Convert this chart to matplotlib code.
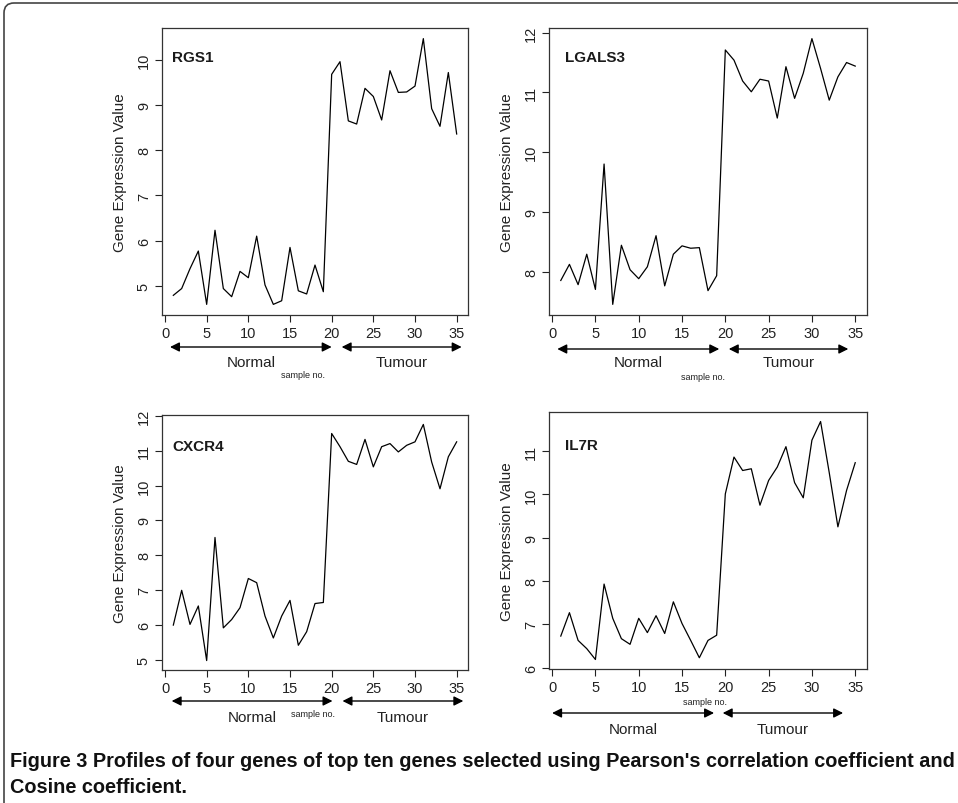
import matplotlib
matplotlib.use("Agg")
import matplotlib.pyplot as plt
from matplotlib.patches import FancyBboxPatch
from matplotlib.transforms import IdentityTransform, blended_transform_factory

plt.rcParams['font.family'] = ['Liberation Sans', 'DejaVu Sans']

W, H = 958, 804
sample = list(range(1, 36))

rgs1 = [4.79, 4.94, 5.38, 5.77, 4.59, 6.23, 4.94, 4.76, 5.32, 5.18,
        6.10, 5.02, 4.59, 4.67, 5.85, 4.89, 4.82, 5.46, 4.87, 9.68,
        9.96, 8.65, 8.58, 9.37, 9.19, 8.67, 9.76, 9.28, 9.29, 9.42,
        10.47, 8.92, 8.53, 9.72, 8.36]
lgals3 = [7.85, 8.12, 7.78, 8.29, 7.70, 9.80, 7.45, 8.44, 8.03, 7.88,
          8.08, 8.60, 7.76, 8.29, 8.43, 8.39, 8.40, 7.68, 7.93, 11.71,
          11.54, 11.19, 11.01, 11.22, 11.19, 10.57, 11.43, 10.90, 11.32, 11.90,
          11.40, 10.87, 11.26, 11.50, 11.44]
cxcr4 = [5.99, 6.99, 6.01, 6.54, 4.97, 8.51, 5.91, 6.15, 6.49, 7.33,
         7.21, 6.25, 5.62, 6.25, 6.70, 5.41, 5.80, 6.61, 6.64, 11.50,
         11.12, 10.70, 10.61, 11.33, 10.54, 11.12, 11.21, 10.97, 11.16, 11.26,
         11.76, 10.68, 9.91, 10.83, 11.26]
il7r = [6.73, 7.27, 6.63, 6.44, 6.19, 7.93, 7.14, 6.67, 6.54, 7.14,
        6.81, 7.20, 6.79, 7.52, 7.02, 6.63, 6.23, 6.63, 6.75, 10.01,
        10.86, 10.55, 10.59, 9.75, 10.32, 10.63, 11.10, 10.27, 9.92, 11.25,
        11.68, 10.50, 9.25, 10.09, 10.73]

genes = ['RGS1', 'LGALS3', 'CXCR4', 'IL7R']
values = [rgs1, lgals3, cxcr4, il7r]

# pixel boxes (left, top, right, bottom)
boxes = [(162, 29, 468, 316), (549, 29, 867, 316),
         (162, 416, 468, 671), (549, 413, 867, 670)]
label_pos = [(0.033, 0.90), (0.05, 0.90), (0.033, 0.88), (0.05, 0.87)]
# arrows: (normal x0, x1, tumour x0, x1) in data units, arrow y px, text y px, sample no. (x px, y px)
arrows = [((0.6, 20.0, 21.2, 35.6), 348, 363, (303, 376)),
          ((0.6, 19.3, 20.4, 34.2), 350, 363, (703, 378)),
          ((0.8, 20.1, 21.3, 35.8), 702, 718, (313, 715)),
          ((0.0, 18.7, 19.7, 33.6), 714, 730, (705, 703))]

fig = plt.figure(figsize=(W / 100, H / 100), dpi=100)

def fy(py):
    return 1 - py / H

for gene, vals, box, lp, arr in zip(genes, values, boxes, label_pos, arrows):
    l, t, r, b = box
    ax = fig.add_axes([l / W, 1 - b / H, (r - l) / W, (b - t) / H])
    ax.plot(sample, vals, color='black', lw=0.9)
    ax.margins(x=0.04, y=0.04)
    ax.set_xticks([0, 5, 10, 15, 20, 25, 30, 35])
    ax.tick_params(direction='out', length=5, width=0.8, labelsize=10.5,
                   colors='#222222', pad=3)
    plt.setp(ax.get_yticklabels(), rotation=90, va='center')
    for s in ax.spines.values():
        s.set_linewidth(0.9)
        s.set_color('#333333')
    ax.set_ylabel('Gene Expression Value', fontsize=11, color='#222222', labelpad=7)
    ax.text(lp[0], lp[1], gene, transform=ax.transAxes, fontsize=11,
            fontweight='bold', color='#1a1a1a', va='center', ha='left')

    (n0, n1, t0, t1), ay, ty, (sx, sy) = arr
    tr = blended_transform_factory(ax.transData, fig.transFigure)
    for x0, x1, name in [(n0, n1, 'Normal'), (t0, t1, 'Tumour')]:
        ax.annotate('', xy=(x1, fy(ay)), xytext=(x0, fy(ay)),
                    xycoords=tr, textcoords=tr, annotation_clip=False,
                    arrowprops=dict(arrowstyle='<|-|>', color='black', lw=1.0,
                                    mutation_scale=14, shrinkA=0, shrinkB=0))
        ax.text((x0 + x1) / 2, fy(ty), name, transform=tr, ha='center', va='center',
                fontsize=11, color='#222222', clip_on=False)
    fig.text(sx / W, fy(sy), 'sample no.', ha='center', va='center',
             fontsize=6.5, color='#222222')

cap1 = fig.text(10 / W, fy(762), "Figure 3 Profiles of four genes of top ten genes selected using Pearson's correlation coefficient and",
                fontweight='bold', fontsize=13, ha='left', va='center', color='#111111')
cap2 = fig.text(10 / W, fy(788), "Cosine coefficient.",
                fontweight='bold', fontsize=13, ha='left', va='center', color='#111111')
# fit the first caption line to the reference width (~938 px)
renderer = fig.canvas.get_renderer()
wpx = cap1.get_window_extent(renderer).width
fs = 13 * 938 / wpx
cap1.set_fontsize(fs)
cap2.set_fontsize(fs)

frame = FancyBboxPatch((4, -60), 1100, H - 4 + 60, boxstyle='round,pad=0,rounding_size=10',
                       transform=IdentityTransform(), fill=False, edgecolor='#444444', lw=1.2)
fig.add_artist(frame)

fig.savefig('out.png', dpi=100)
